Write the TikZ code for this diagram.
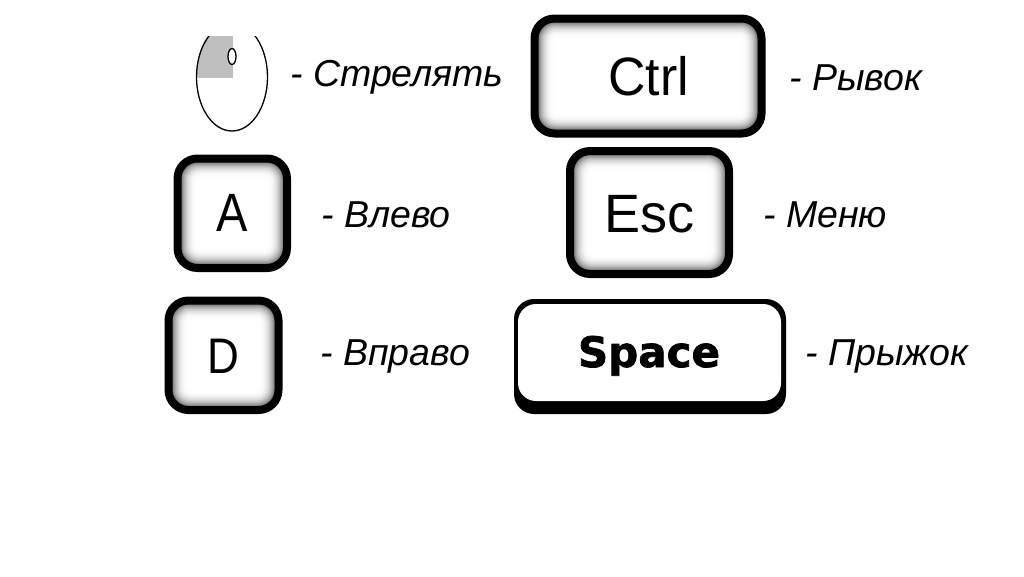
\documentclass[tikz,border=0pt]{standalone}
\usepackage{fontspec}
\setmainfont{Liberation Sans}
\newfontfamily\spacefont[BoldFont={DejaVu Sans Bold},BoldFeatures={FakeBold=1.6}]{DejaVu Sans}
\tikzset{
  x=1pt,y=-1pt,
  keytext/.style={anchor=base,inner sep=0pt,font=\fontsize{54}{54}\selectfont,text=black},
  spacetext/.style={anchor=base,inner sep=0pt,font=\spacefont\bfseries\fontsize{42}{42}\selectfont,text=black},
  lbl/.style={anchor=base west,inner sep=0pt,font=\itshape\fontsize{37.5}{37.5}\selectfont,text=black},
}
\newcommand{\keycap}[4]{%
  \foreach \i in {0,...,20}{%
    \pgfmathsetmacro{\lev}{100*(1-0.85*(1-min(\i/20,1))^2.6)}
    \pgfmathsetmacro{\rad}{max(20-0.8*\i,2)}
    \fill[white!\lev!black,rounded corners=\rad pt]
      ({#1+\i},{#2+\i}) rectangle ({#3-\i},{#4-\i});
  }
  \draw[line width=8pt,rounded corners=20pt,black] (#1,#2) rectangle (#3,#4);
}
\begin{document}
\begin{tikzpicture}
\useasboundingbox (0,0) rectangle (1024,576);
\fill[white] (0,0) rectangle (1024,576);
% mouse
\begin{scope}
  \clip (190,36) rectangle (275,140);
  \fill[white] (232,77) ellipse [x radius=35.5,y radius=54];
  \begin{scope}
    \clip (232,77) ellipse [x radius=35.5,y radius=54];
    \fill[black!25] (196,30) rectangle (232.5,78);
  \end{scope}
  \draw[line width=1.3pt] (232,77) ellipse [x radius=35.5,y radius=54];
\end{scope}
\draw[line width=1.3pt,fill=white] (232,56.5) ellipse [x radius=4,y radius=8];
% keys
\keycap{534.5}{18.5}{761.5}{133.5}
\node[keytext,xscale=0.96] (ctrl) at (648.5,95) {Ctrl};
\keycap{177.5}{158.5}{287}{268}
\node[keytext,xscale=0.87] (a) at (232.5,231) {A};
\keycap{570}{151}{729}{274}
\node[keytext] (esc) at (649,232) {Esc};
\keycap{168.5}{300.5}{278.5}{410}
\node[keytext,xscale=0.88,font=\fontsize{50}{50}\selectfont] (d) at (223,373) {D};
% space
\fill[black,rounded corners=20pt] (514,299) rectangle (786,414);
\fill[white,rounded corners=18pt] (518,304) rectangle (781,401);
\node[spacetext] (space) at (649,367) {Space};
% labels
\node[lbl] (l1) at (290,86) {- Стрелять};
\node[lbl] (l2) at (789,90) {- Рывок};
\node[lbl] (l3) at (321,227) {- Влево};
\node[lbl] (l4) at (763,227) {- Меню};
\node[lbl] (l5) at (320,365) {- Вправо};
\node[lbl] (l6) at (805,365) {- Прыжок};
\end{tikzpicture}
\end{document}
